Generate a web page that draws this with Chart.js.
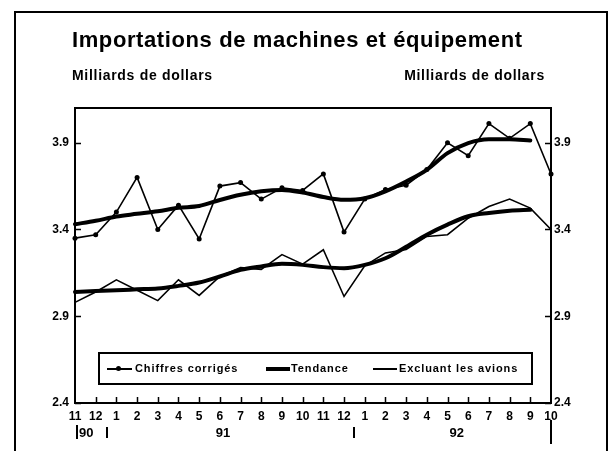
<!DOCTYPE html>
<html>
<head>
<meta charset="utf-8">
<script src="https://cdn.jsdelivr.net/npm/chart.js@4.4.1/dist/chart.umd.min.js"></script>
<style>
  body { margin: 0; background: #fff; }
  #wrap { position: relative; width: 613px; height: 451px; overflow: hidden;
          font-family: "Liberation Sans", Arial, sans-serif; font-weight: bold; color: #000; }
  #frame { position: absolute; left: 14px; top: 11px; width: 590px; height: 520px;
           border: 2px solid #000; }
  #chart { position: absolute; left: 0; top: 0; }
  .title { position: absolute; left: 72px; top: 27px; font-size: 22px; letter-spacing: 0.6px; white-space: nowrap; }
  .unit { position: absolute; top: 67px; font-size: 14px; letter-spacing: 0.7px; white-space: nowrap; }
  #legend { position: absolute; left: 98px; top: 352px; width: 435px; height: 33px;
            border: 2px solid #000; box-sizing: border-box; }
  .lg-text { position: absolute; top: 362px; font-size: 11px; letter-spacing: 0.9px; white-space: nowrap; }
  .lg-line { position: absolute; background: #000; }
  .lg-dot { position: absolute; width: 5px; height: 5px; border-radius: 50%; background: #000; }
</style>
</head>
<body>
<div id="wrap">
  <div id="frame"></div>
  <canvas id="chart" width="613" height="451"></canvas>
  <div class="title">Importations de machines et équipement</div>
  <div class="unit" style="left:72px">Milliards de dollars</div>
  <div class="unit" style="right:68px">Milliards de dollars</div>
  <div id="legend"></div>
</div>
<script>
// months from 11/90 to 10/92
const months = ['11','12','1','2','3','4','5','6','7','8','9','10','11','12','1','2','3','4','5','6','7','8','9','10'];
const years = ['90', '91', '92'];
const yTicks = [2.4, 2.9, 3.4, 3.9];

const chiffres = [3.35, 3.37, 3.50, 3.70, 3.40, 3.54, 3.345, 3.65, 3.67, 3.575, 3.64, 3.625,
                  3.72, 3.385, 3.575, 3.63, 3.655, 3.745, 3.90, 3.825, 4.01, 3.925, 4.01, 3.72];
const tendance = [3.43, 3.45, 3.475, 3.49, 3.505, 3.525, 3.535, 3.57, 3.60, 3.62, 3.628, 3.613,
                  3.587, 3.571, 3.58, 3.62, 3.677, 3.744, 3.84, 3.898, 3.92, 3.92, 3.913, null];
const excluant = [2.98, 3.04, 3.11, 3.05, 2.99, 3.11, 3.02, 3.13, 3.18, 3.17, 3.255, 3.20,
                  3.283, 3.014, 3.19, 3.265, 3.285, 3.36, 3.37, 3.465, 3.532, 3.575, 3.523, 3.40];
const tendanceExcl = [3.04, 3.045, 3.05, 3.055, 3.06, 3.075, 3.094, 3.129, 3.167, 3.187, 3.202, 3.196,
                      3.183, 3.177, 3.196, 3.234, 3.30, 3.37, 3.428, 3.476, 3.495, 3.508, 3.513, null];

const seriesNames = ['Chiffres corrigés', 'Tendance', 'Excluant les avions'];

const FONT = '"Liberation Sans", Arial, sans-serif';

// legend built in html from the series names
function buildLegend() {
  const wrap = document.getElementById('wrap');
  const add = (cls, css, txt) => {
    const el = document.createElement('div');
    el.className = cls;
    el.style.cssText = css;
    if (txt) el.textContent = txt;
    wrap.appendChild(el);
  };
  add('lg-line', 'left:107px;top:368px;width:25px;height:1.5px');
  add('lg-dot', 'left:116px;top:366px');
  add('lg-text', 'left:135px', seriesNames[0]);
  add('lg-line', 'left:266px;top:367px;width:24px;height:3.5px');
  add('lg-text', 'left:291px', seriesNames[1]);
  add('lg-line', 'left:373px;top:368px;width:24px;height:1.5px');
  add('lg-text', 'left:399px', seriesNames[2]);
}

// box round the plot, inward tick marks and the year row
const framePlugin = {
  id: 'framePlugin',
  afterDraw(chart) {
    const { ctx, chartArea: a, scales } = chart;
    const x = scales.x, y = scales.y;
    ctx.save();
    ctx.strokeStyle = '#000';
    ctx.lineWidth = 2;
    ctx.strokeRect(a.left, a.top, a.right - a.left, a.bottom - a.top);

    ctx.lineWidth = 1.5;
    ctx.beginPath();
    yTicks.forEach(v => {
      const py = Math.round(y.getPixelForValue(v)) + 0.5;
      ctx.moveTo(a.left, py); ctx.lineTo(a.left + 6, py);
      ctx.moveTo(a.right, py); ctx.lineTo(a.right - 6, py);
    });
    for (let i = 1; i < months.length - 1; i++) {
      const px = Math.round(x.getPixelForValue(i)) + 0.5;
      ctx.moveTo(px, a.bottom); ctx.lineTo(px, a.bottom - 6);
    }
    ctx.stroke();

    // year separators
    ctx.lineWidth = 2;
    ctx.beginPath();
    const bar = (idx, top, bot) => {
      const px = Math.round(x.getPixelForValue(idx));
      ctx.moveTo(px, top); ctx.lineTo(px, bot);
    };
    bar(0.1, 425, 439);
    bar(1.55, 427, 438);
    bar(13.5, 427, 438);
    bar(23, 420, 444);
    ctx.stroke();

    ctx.fillStyle = '#000';
    ctx.font = 'bold 13px ' + FONT;
    ctx.textBaseline = 'middle';
    ctx.textAlign = 'left';
    ctx.fillText(years[0], x.getPixelForValue(0.1) + 2, 433);
    ctx.textAlign = 'center';
    ctx.fillText(years[1], x.getPixelForValue(7.15), 433);
    ctx.fillText(years[2], x.getPixelForValue(18.45), 433);
    ctx.restore();
  }
};

const yAxis = (pos, width, pad) => ({
  type: 'linear',
  position: pos,
  min: 2.4,
  max: 4.1,
  afterBuildTicks: s => { s.ticks = yTicks.map(v => ({ value: v })); },
  afterFit: s => { s.width = width; },
  grid: { display: false, drawTicks: false },
  border: { display: false },
  ticks: {
    color: '#000',
    padding: pad,
    font: { family: FONT, size: 12, weight: 'bold' },
    callback: v => v.toFixed(1)
  }
});

new Chart(document.getElementById('chart'), {
  type: 'line',
  data: {
    labels: months,
    datasets: [
      { label: seriesNames[1], data: tendance, borderColor: '#000', borderWidth: 4,
        pointRadius: 0, tension: 0.4, cubicInterpolationMode: 'monotone', borderCapStyle: 'round' },
      { label: seriesNames[1], data: tendanceExcl, borderColor: '#000', borderWidth: 4,
        pointRadius: 0, tension: 0.4, cubicInterpolationMode: 'monotone', borderCapStyle: 'round' },
      { label: seriesNames[0], data: chiffres, borderColor: '#000', borderWidth: 1.6,
        pointRadius: 2.5, pointBackgroundColor: '#000', pointBorderWidth: 0, tension: 0 },
      { label: seriesNames[2], data: excluant, borderColor: '#000', borderWidth: 1.6,
        pointRadius: 0, tension: 0 }
    ]
  },
  options: {
    responsive: false,
    devicePixelRatio: 1,
    animation: false,
    events: [],
    layout: { padding: { top: 108, left: 0, right: 0, bottom: 0 } },
    plugins: { legend: { display: false }, tooltip: { enabled: false }, title: { display: false } },
    scales: {
      x: {
        type: 'category',
        offset: false,
        afterFit: s => { s.height = 48; },
        grid: { display: false, drawTicks: false },
        border: { display: false },
        ticks: {
          color: '#000',
          padding: 6,
          autoSkip: false,
          maxRotation: 0,
          font: { family: FONT, size: 12, weight: 'bold' }
        }
      },
      y: yAxis('left', 75, 6),
      y2: yAxis('right', 62, 3)
    }
  },
  plugins: [framePlugin]
});

buildLegend();
</script>
</body>
</html>
